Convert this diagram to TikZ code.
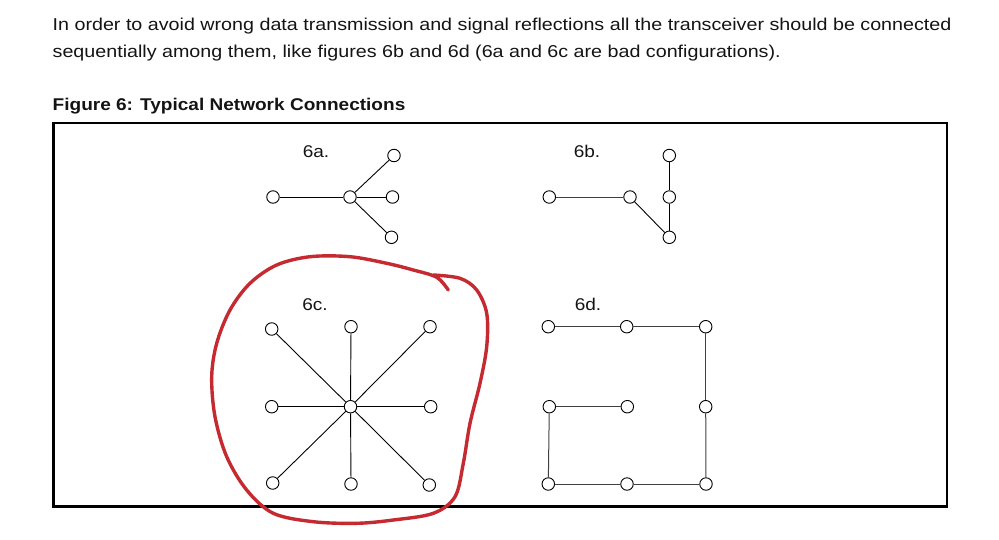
\documentclass[tikz,border=0pt]{standalone}
\usepackage{fontspec}
\setmainfont{Liberation Sans}
\newfontfamily\widesans[FakeStretch=1.145]{Liberation Sans}
\newfontfamily\widettl[FakeStretch=1.12]{Liberation Sans}
\newfontfamily\widelbl[FakeStretch=1.12]{Liberation Sans}
\definecolor{txtc}{HTML}{141414}
\definecolor{redpen}{HTML}{C42A30}
\begin{document}
\begin{tikzpicture}[x=1pt,y=-1pt,
  tx/.style={anchor=base west, inner sep=0, font=\widesans\fontsize{17.2}{20}\selectfont, text=txtc},
  ttl/.style={anchor=base west, inner sep=0, font=\widettl\fontsize{17}{20}\selectfont\bfseries, text=txtc},
  lbl/.style={anchor=base, inner sep=0, font=\widelbl\fontsize{17}{20}\selectfont, text=txtc},
  nd/.style={circle, draw=black, line width=0.9pt, minimum size=12.5pt, inner sep=0, fill=white},
  ln/.style={line width=0.9pt, draw=black},
  lng/.style={line width=1pt, draw=black!75},
  frame/.style={line width=2.2pt, draw=black},
  pen/.style={line width=3.4pt, draw=redpen, line cap=round, line join=round},
]
\useasboundingbox (0,0) rectangle (999,539);
% texts
\node[tx] (t1) at (52.5,30.5) {In order to avoid wrong data transmission and signal reflections all the transceiver should be connected};
\node[tx] (t2) at (52.5,57.8) {sequentially among them, like figures 6b and 6d (6a and 6c are bad configurations).};
\node[ttl] (ttl) at (52.5,110.5) {Figure 6: Typical Network Connections};
% frame
\draw[frame] (53.5,123) rectangle (947,506.5);

% 6a
\node[lbl] (la) at (316,157) {6a.};
\node[nd] (a1) at (273,197) {};
\node[nd] (a2) at (350,197) {};
\node[nd] (a3) at (394,155.5) {};
\node[nd] (a4) at (392.5,197) {};
\node[nd] (a5) at (391.5,237.3) {};
\draw[ln] (a1) -- (a2);
\draw[ln] (a2) -- (a3);
\draw[ln] (a2) -- (a4);
\draw[ln] (a2) -- (a5);

% 6b
\node[lbl] (lb) at (587,157) {6b.};
\node[nd] (b1) at (549.3,197) {};
\node[nd] (b2) at (630,197) {};
\node[nd] (b3) at (669.3,237.3) {};
\node[nd] (b4) at (669.3,197) {};
\node[nd] (b5) at (669.3,155.5) {};
\draw[lng] (b1) -- (b2);
\draw[ln] (b2) -- (b3);
\draw[ln] (b3) -- (b4);
\draw[ln] (b4) -- (b5);

% 6c
\node[lbl] (lc) at (315,310.5) {6c.};
\node[nd] (c0) at (350.5,406.7) {};
\node[nd] (c1) at (271.7,329) {};
\node[nd] (c2) at (351,326.7) {};
\node[nd] (c3) at (430,326.7) {};
\node[nd] (c4) at (271.7,406.7) {};
\node[nd] (c5) at (430.7,406.7) {};
\node[nd] (c6) at (272.7,483) {};
\node[nd] (c7) at (351,484) {};
\node[nd] (c8) at (429.3,485) {};
\foreach \n in {c1,c2,c3,c4,c5,c6,c7,c8} {\draw[ln] (c0) -- (\n);}

% 6d
\node[lbl] (ld) at (588,310.5) {6d.};
\node[nd] (d1) at (548.3,326.7) {};
\node[nd] (d2) at (626.7,326.7) {};
\node[nd] (d3) at (705.7,326.7) {};
\node[nd] (d4) at (549.3,406.7) {};
\node[nd] (d5) at (627.3,406.7) {};
\node[nd] (d6) at (705.7,406.7) {};
\node[nd] (d7) at (548.3,484) {};
\node[nd] (d8) at (627,484) {};
\node[nd] (d9) at (706,484) {};
\draw[lng] (d1) -- (d2);
\draw[lng] (d2) -- (d3);
\draw[lng] (d3) -- (d6);
\draw[lng] (d6) -- (d9);
\draw[lng] (d9) -- (d8);
\draw[lng] (d8) -- (d7);
\draw[lng] (d7) -- (d4);
\draw[lng] (d4) -- (d5);

% red freehand loop
\draw[pen] plot[smooth, tension=0.55] coordinates {
 (448.3,290) (436.7,277.3) (413.3,270) (386.7,263.3) (350,256.7) (310,256.7)
 (276.7,265) (250,283.3) (230,310) (216.7,343.3) (211.7,376.7) (215,416.7)
 (226.7,456.7) (246.7,490) (273.3,513.3) (313.3,521.7) (356.7,523.3)
 (393.3,520) (433.3,513.3) (455,496.7) (463.3,463.3) (470,423.3) (480,383.3)
 (486.7,346.7) (486.7,313.3) (476.7,290) (460,278.3) (433.3,275)};
\end{tikzpicture}
\end{document}
